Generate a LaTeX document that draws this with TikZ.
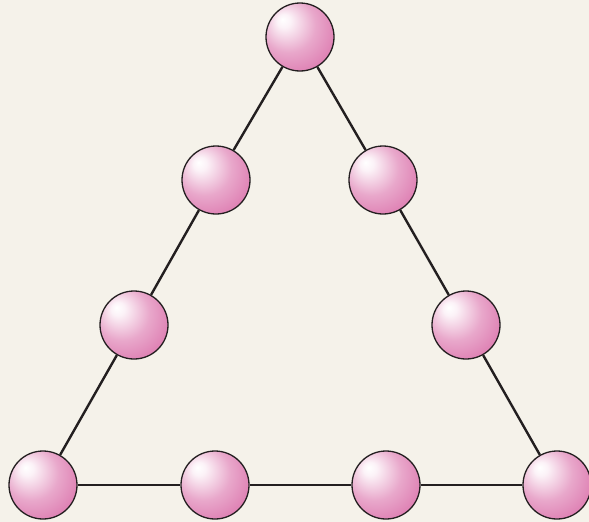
\documentclass[tikz,border=0pt]{standalone}
\usepackage{xcolor}
\usepackage{tikz}
\usetikzlibrary{positioning}
\definecolor{paperbg}{RGB}{245, 242, 234}
\definecolor{edgeblack}{RGB}{35, 31, 32}
\definecolor{ballpink}{RGB}{214, 96, 160}
\pgfdeclareradialshading[ballpink]{pinkball}{\pgfpoint{-13bp}{13bp}}{%
  color(0bp)=(white); color(5bp)=(white!92!ballpink);
  color(20bp)=(ballpink!55); color(36bp)=(ballpink!85);
  color(50bp)=(ballpink); color(60bp)=(ballpink)}

\begin{document}
\begin{tikzpicture}[x=1pt, y=-1pt,
  ball/.style={draw=edgeblack, line width=1.3pt, circle, shading=pinkball, minimum size=68pt, inner sep=0pt},
  link/.style={draw=edgeblack, line width=2.4pt}]
  % Background
  \fill[paperbg] (0,0) rectangle (589,522);
  \useasboundingbox (0,0) rectangle (589,522);

  % Nodes
  \node[ball] (top) at (300,37) {};
  \node[ball] (left1) at (216,180) {};
  \node[ball] (right1) at (383,180) {};
  \node[ball] (left2) at (134,325) {};
  \node[ball] (right2) at (466,325) {};
  \node[ball] (bottomleft) at (43,485) {};
  \node[ball] (bottom1) at (215,485) {};
  \node[ball] (bottom2) at (386,485) {};
  \node[ball] (bottomright) at (557,485) {};

  % Edges
  \draw[link] (top) -- (left1);
  \draw[link] (left1) -- (left2);
  \draw[link] (left2) -- (bottomleft);
  \draw[link] (bottomleft) -- (bottom1);
  \draw[link] (bottom1) -- (bottom2);
  \draw[link] (bottom2) -- (bottomright);
  \draw[link] (bottomright) -- (right2);
  \draw[link] (right2) -- (right1);
  \draw[link] (right1) -- (top);
\end{tikzpicture}
\end{document}
